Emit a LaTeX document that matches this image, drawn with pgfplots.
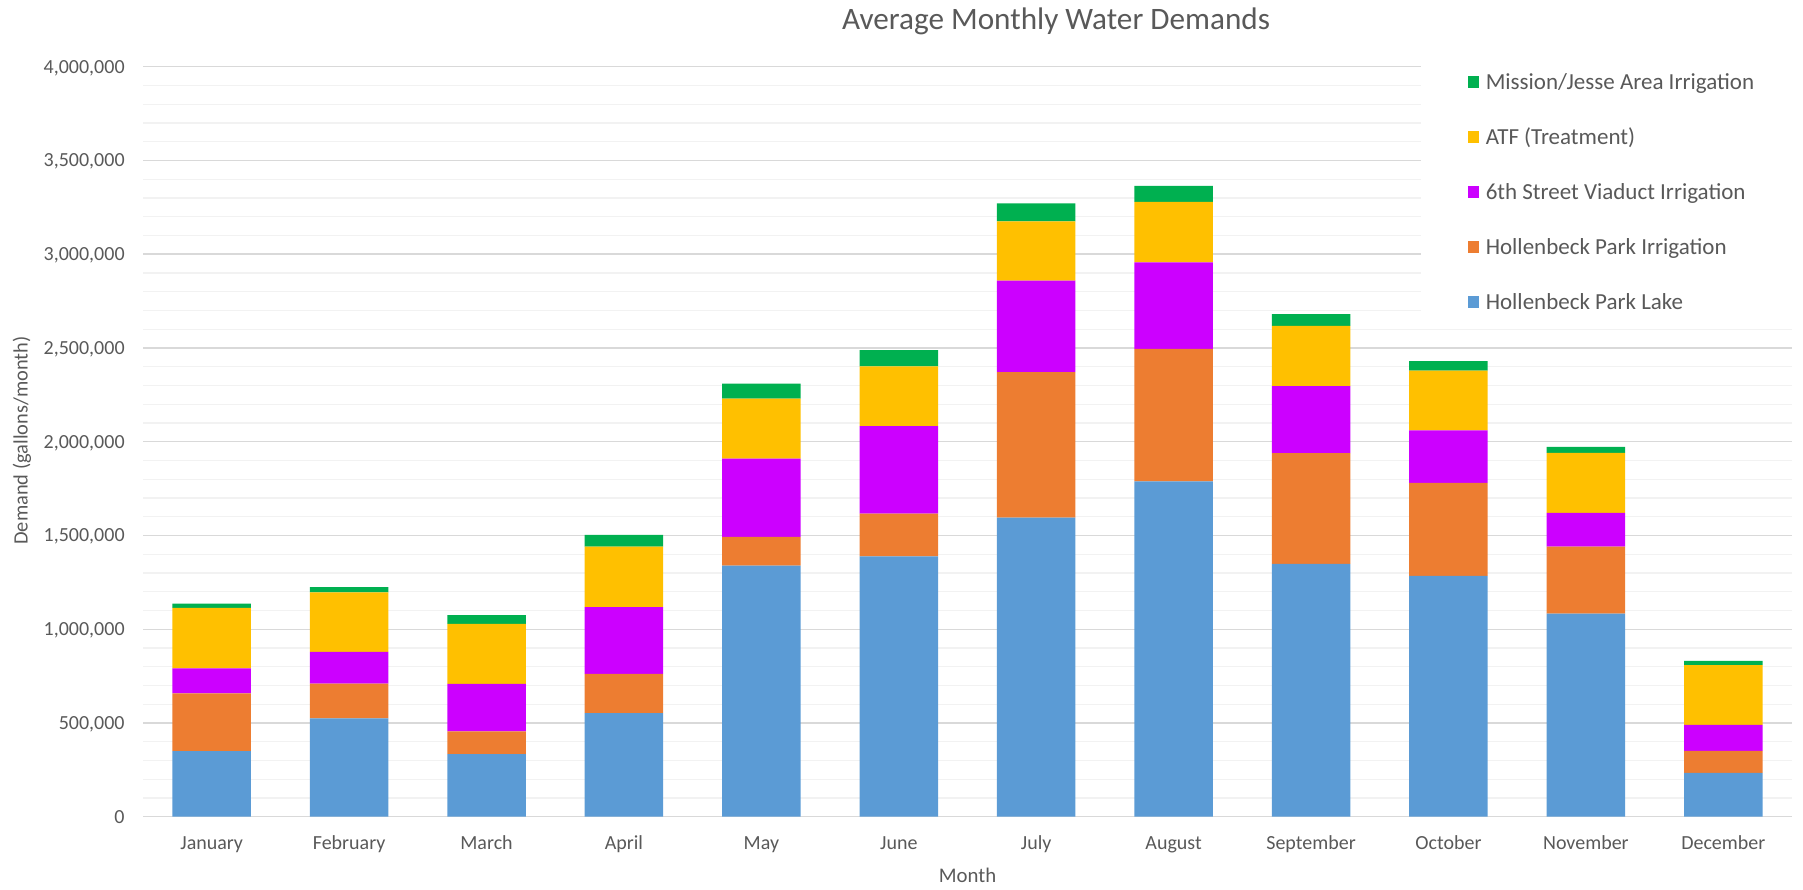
\documentclass[border=0pt]{standalone}
\usepackage{pgfplots}
\usepackage{pgfplotstable}
\pgfplotsset{compat=1.18}
\usepackage{fontspec}
\setmainfont{Carlito}
\definecolor{txtgray}{HTML}{595959}
\definecolor{cLake}{HTML}{5B9BD5}
\definecolor{cHPI}{HTML}{ED7D31}
\definecolor{cSV}{HTML}{CC00FF}
\definecolor{cATF}{HTML}{FFC000}
\definecolor{cMJ}{HTML}{00B050}
\definecolor{majgrid}{HTML}{D9D9D9}
\definecolor{mingrid}{HTML}{F2F2F2}

\pgfplotstableread{
x lake hpi sv atf mj
0 350000 308000 133000 323000 23000
1 525000 185000 169000 318000 28000
2 334000 121000 254000 320000 46000
3 552000 210000 356000 323000 62000
4 1339000 154000 417000 320000 80000
5 1389000 227000 467000 319000 86000
6 1595000 776000 488000 316000 96000
7 1789000 706000 462000 322000 85000
8 1348000 591000 357000 322000 63000
9 1284000 497000 279000 319000 51000
10 1083000 358000 180000 319000 33000
11 234000 117000 139000 319000 22000
}\demand

\begin{document}
\begin{tikzpicture}
\path[use as bounding box] (0,0) rectangle (901.5pt,444.5pt);
\begin{axis}[
  at={(71.5pt,36.15pt)}, anchor=south west,
  scale only axis, width=824.5pt, height=375pt,
  ybar stacked, bar width=39.25pt,
  legend image code/.code={\fill[#1] (0pt,0.6pt) rectangle (5.8pt,6.4pt);},
  xmin=-0.5, xmax=11.5, ymin=0, ymax=4000000,
  xtick={0,1,...,11},
  xticklabels={January,February,March,April,May,June,July,August,September,October,November,December},
  ytick={0,500000,...,4000000},
  minor y tick num=4,
  scaled y ticks=false,
  ymajorgrids, yminorgrids,
  major grid style={draw=majgrid, line width=0.7pt},
  minor grid style={draw=mingrid, line width=0.6pt},
  axis line style={draw=none},
  major tick length=0pt, minor tick length=0pt,
  tick style={draw=none},
  /pgf/number format/assume math mode=true,
  yticklabel={\pgfmathprintnumber[fixed,precision=0,1000 sep={,}]{\tick}},
  ticklabel style={font=\fontsize{10}{12}\selectfont, text=txtgray},
  xticklabel style={anchor=base, inner sep=0pt, yshift=-16.2pt},
  yticklabel style={anchor=base east, inner sep=0pt, xshift=-9pt, yshift=-3.2pt},
  xlabel={Month},
  ylabel={Demand (gallons/month)},
  every axis x label/.style={at={(axis description cs:0.5,-0.0884)}, anchor=base, font=\fontsize{10.4}{12}\selectfont, text=txtgray},
  every axis y label/.style={at={(axis description cs:-0.0700,0.5016)}, rotate=90, anchor=base, font=\fontsize{10.2}{12}\selectfont, text=txtgray},
  reverse legend,
  legend style={at={(0.775,1.0032)}, anchor=north west, fill=white, draw=none,
    inner xsep=23.3pt, inner ysep=4pt, outer sep=0pt,
    column sep=3.3pt, row sep=16pt,
    font=\fontsize{11.5}{13}\selectfont, text=txtgray,
    nodes={inner sep=0pt, text height=8.5pt, text depth=3pt},
    cells={anchor=base west}},
]
\addplot[fill=cLake, draw=none] table[x=x, y=lake] {\demand};
\addlegendentry{Hollenbeck Park Lake}
\addplot[fill=cHPI, draw=none] table[x=x, y=hpi] {\demand};
\addlegendentry{Hollenbeck Park Irrigation}
\addplot[fill=cSV, draw=none] table[x=x, y=sv] {\demand};
\addlegendentry{6th Street Viaduct Irrigation}
\addplot[fill=cATF, draw=none] table[x=x, y=atf] {\demand};
\addlegendentry{ATF (Treatment)}
\addplot[fill=cMJ, draw=none] table[x=x, y=mj] {\demand};
\addlegendentry{Mission/Jesse Area Irrigation}
\end{axis}
\node[anchor=base, font=\fontsize{15.6}{18}\selectfont, text=txtgray, inner sep=0pt] at (528pt,429.5pt) {Average Monthly Water Demands};
\end{tikzpicture}
\end{document}
